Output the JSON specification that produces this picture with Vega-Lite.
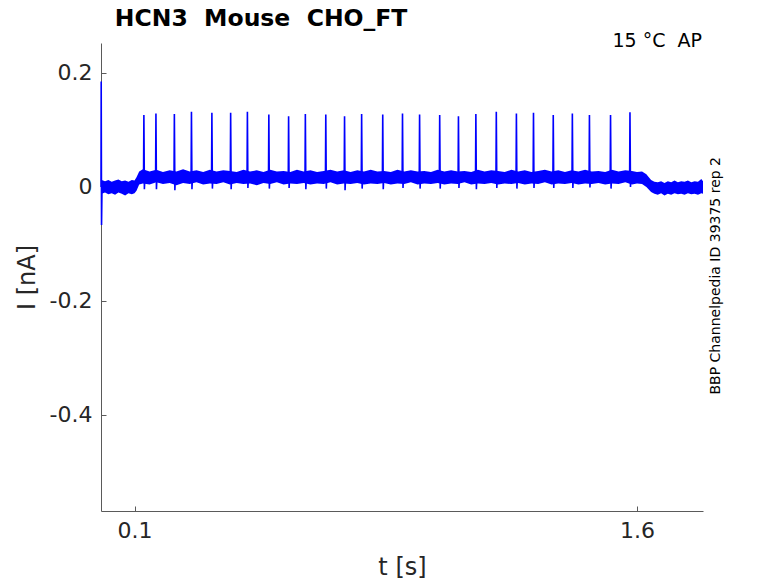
{
  "$schema": "https://vega.github.io/schema/vega-lite/v6.json",
  "autosize": {"type": "none"},
  "padding": {"left": 101, "top": 43, "right": 75, "bottom": 71},
  "width": 602,
  "height": 468,
  "background": "white",
  "config": {
    "view": {"stroke": null},
    "axis": {
      "grid": false,
      "domainColor": "#5a5a5a",
      "domainWidth": 1,
      "tickColor": "#5a5a5a",
      "tickSize": -5,
      "labelFont": "DejaVu Sans",
      "labelFontSize": 22,
      "labelColor": "#262626",
      "titleFont": "DejaVu Sans",
      "titleFontSize": 24,
      "titleFontWeight": "normal",
      "titleColor": "#262626"
    }
  },
  "datasets": {
    "band": [
      {"t": 0.002, "lo": -0.012, "hi": 0.012},
      {"t": 0.012, "lo": -0.010, "hi": 0.010},
      {"t": 0.022, "lo": -0.013, "hi": 0.012},
      {"t": 0.032, "lo": -0.011, "hi": 0.009},
      {"t": 0.042, "lo": -0.014, "hi": 0.011},
      {"t": 0.052, "lo": -0.010, "hi": 0.013},
      {"t": 0.062, "lo": -0.012, "hi": 0.010},
      {"t": 0.072, "lo": -0.015, "hi": 0.011},
      {"t": 0.082, "lo": -0.011, "hi": 0.009},
      {"t": 0.092, "lo": -0.013, "hi": 0.012},
      {"t": 0.10, "lo": -0.011, "hi": 0.011},
      {"t": 0.106, "lo": -0.007, "hi": 0.017},
      {"t": 0.114, "lo": 0.004, "hi": 0.027},
      {"t": 0.125, "lo": 0.006, "hi": 0.031},
      {"t": 0.145, "lo": 0.004, "hi": 0.027},
      {"t": 0.165, "lo": 0.008, "hi": 0.030},
      {"t": 0.185, "lo": 0.005, "hi": 0.026},
      {"t": 0.205, "lo": 0.007, "hi": 0.029},
      {"t": 0.225, "lo": 0.003, "hi": 0.027},
      {"t": 0.245, "lo": 0.007, "hi": 0.031},
      {"t": 0.265, "lo": 0.005, "hi": 0.027},
      {"t": 0.285, "lo": 0.008, "hi": 0.029},
      {"t": 0.305, "lo": 0.004, "hi": 0.026},
      {"t": 0.325, "lo": 0.006, "hi": 0.030},
      {"t": 0.345, "lo": 0.005, "hi": 0.027},
      {"t": 0.365, "lo": 0.008, "hi": 0.029},
      {"t": 0.385, "lo": 0.004, "hi": 0.028},
      {"t": 0.405, "lo": 0.007, "hi": 0.026},
      {"t": 0.425, "lo": 0.005, "hi": 0.030},
      {"t": 0.445, "lo": 0.006, "hi": 0.027},
      {"t": 0.465, "lo": 0.003, "hi": 0.029},
      {"t": 0.485, "lo": 0.007, "hi": 0.026},
      {"t": 0.505, "lo": 0.005, "hi": 0.030},
      {"t": 0.525, "lo": 0.008, "hi": 0.027},
      {"t": 0.545, "lo": 0.004, "hi": 0.028},
      {"t": 0.565, "lo": 0.006, "hi": 0.026},
      {"t": 0.585, "lo": 0.005, "hi": 0.030},
      {"t": 0.605, "lo": 0.007, "hi": 0.027},
      {"t": 0.625, "lo": 0.004, "hi": 0.029},
      {"t": 0.645, "lo": 0.006, "hi": 0.026},
      {"t": 0.665, "lo": 0.005, "hi": 0.028},
      {"t": 0.685, "lo": 0.008, "hi": 0.030},
      {"t": 0.705, "lo": 0.004, "hi": 0.027},
      {"t": 0.725, "lo": 0.006, "hi": 0.029},
      {"t": 0.745, "lo": 0.005, "hi": 0.026},
      {"t": 0.765, "lo": 0.007, "hi": 0.029},
      {"t": 0.785, "lo": 0.004, "hi": 0.027},
      {"t": 0.805, "lo": 0.006, "hi": 0.030},
      {"t": 0.825, "lo": 0.005, "hi": 0.027},
      {"t": 0.845, "lo": 0.007, "hi": 0.028},
      {"t": 0.865, "lo": 0.004, "hi": 0.026},
      {"t": 0.885, "lo": 0.006, "hi": 0.030},
      {"t": 0.905, "lo": 0.005, "hi": 0.027},
      {"t": 0.925, "lo": 0.008, "hi": 0.029},
      {"t": 0.945, "lo": 0.004, "hi": 0.027},
      {"t": 0.965, "lo": 0.006, "hi": 0.028},
      {"t": 0.985, "lo": 0.005, "hi": 0.026},
      {"t": 1.005, "lo": 0.007, "hi": 0.030},
      {"t": 1.025, "lo": 0.004, "hi": 0.027},
      {"t": 1.045, "lo": 0.006, "hi": 0.029},
      {"t": 1.065, "lo": 0.005, "hi": 0.027},
      {"t": 1.085, "lo": 0.008, "hi": 0.028},
      {"t": 1.105, "lo": 0.004, "hi": 0.026},
      {"t": 1.125, "lo": 0.006, "hi": 0.030},
      {"t": 1.145, "lo": 0.005, "hi": 0.027},
      {"t": 1.165, "lo": 0.007, "hi": 0.029},
      {"t": 1.185, "lo": 0.004, "hi": 0.028},
      {"t": 1.205, "lo": 0.006, "hi": 0.026},
      {"t": 1.225, "lo": 0.005, "hi": 0.030},
      {"t": 1.245, "lo": 0.007, "hi": 0.027},
      {"t": 1.265, "lo": 0.004, "hi": 0.029},
      {"t": 1.285, "lo": 0.006, "hi": 0.026},
      {"t": 1.305, "lo": 0.005, "hi": 0.028},
      {"t": 1.325, "lo": 0.008, "hi": 0.030},
      {"t": 1.345, "lo": 0.004, "hi": 0.027},
      {"t": 1.365, "lo": 0.006, "hi": 0.029},
      {"t": 1.385, "lo": 0.005, "hi": 0.026},
      {"t": 1.405, "lo": 0.007, "hi": 0.029},
      {"t": 1.425, "lo": 0.004, "hi": 0.027},
      {"t": 1.445, "lo": 0.006, "hi": 0.030},
      {"t": 1.465, "lo": 0.005, "hi": 0.027},
      {"t": 1.485, "lo": 0.007, "hi": 0.028},
      {"t": 1.505, "lo": 0.004, "hi": 0.026},
      {"t": 1.525, "lo": 0.006, "hi": 0.030},
      {"t": 1.545, "lo": 0.005, "hi": 0.027},
      {"t": 1.565, "lo": 0.008, "hi": 0.029},
      {"t": 1.585, "lo": 0.004, "hi": 0.028},
      {"t": 1.600, "lo": 0.006, "hi": 0.026},
      {"t": 1.615, "lo": 0.005, "hi": 0.027},
      {"t": 1.628, "lo": 0.000, "hi": 0.022},
      {"t": 1.642, "lo": -0.009, "hi": 0.012},
      {"t": 1.652, "lo": -0.012, "hi": 0.009},
      {"t": 1.662, "lo": -0.014, "hi": 0.008},
      {"t": 1.672, "lo": -0.011, "hi": 0.010},
      {"t": 1.682, "lo": -0.015, "hi": 0.007},
      {"t": 1.692, "lo": -0.012, "hi": 0.010},
      {"t": 1.702, "lo": -0.014, "hi": 0.008},
      {"t": 1.712, "lo": -0.011, "hi": 0.011},
      {"t": 1.722, "lo": -0.013, "hi": 0.008},
      {"t": 1.732, "lo": -0.012, "hi": 0.010},
      {"t": 1.742, "lo": -0.014, "hi": 0.009},
      {"t": 1.752, "lo": -0.011, "hi": 0.011},
      {"t": 1.762, "lo": -0.013, "hi": 0.008},
      {"t": 1.772, "lo": -0.012, "hi": 0.010},
      {"t": 1.782, "lo": -0.014, "hi": 0.009},
      {"t": 1.792, "lo": -0.011, "hi": 0.014},
      {"t": 1.797, "lo": -0.012, "hi": 0.010}
    ],
    "trace": [
      {"t": 0.0, "i": 0.0},
      {"t": 0.0006, "i": 0.185},
      {"t": 0.0016, "i": -0.067},
      {"t": 0.003, "i": 0.0},
      {"t": 0.1, "i": 0.0},
      {"t": 0.114, "i": 0.017},
      {"t": 0.127, "i": 0.017}, {"t": 0.128, "i": 0.126}, {"t": 0.1295, "i": -0.004}, {"t": 0.131, "i": 0.017},
      {"t": 0.163, "i": 0.017}, {"t": 0.164, "i": 0.129}, {"t": 0.1655, "i": -0.004}, {"t": 0.167, "i": 0.017},
      {"t": 0.218, "i": 0.017}, {"t": 0.219, "i": 0.128}, {"t": 0.2205, "i": -0.006}, {"t": 0.222, "i": 0.017},
      {"t": 0.269, "i": 0.017}, {"t": 0.270, "i": 0.132}, {"t": 0.2715, "i": -0.004}, {"t": 0.273, "i": 0.017},
      {"t": 0.330, "i": 0.017}, {"t": 0.331, "i": 0.130}, {"t": 0.3325, "i": -0.003}, {"t": 0.334, "i": 0.017},
      {"t": 0.386, "i": 0.017}, {"t": 0.387, "i": 0.130}, {"t": 0.3885, "i": -0.004}, {"t": 0.390, "i": 0.017},
      {"t": 0.436, "i": 0.017}, {"t": 0.437, "i": 0.132}, {"t": 0.4385, "i": -0.002}, {"t": 0.440, "i": 0.017},
      {"t": 0.500, "i": 0.017}, {"t": 0.501, "i": 0.127}, {"t": 0.5025, "i": -0.003}, {"t": 0.504, "i": 0.017},
      {"t": 0.559, "i": 0.017}, {"t": 0.560, "i": 0.124}, {"t": 0.5615, "i": -0.002}, {"t": 0.563, "i": 0.017},
      {"t": 0.609, "i": 0.017}, {"t": 0.610, "i": 0.128}, {"t": 0.6115, "i": -0.004}, {"t": 0.613, "i": 0.017},
      {"t": 0.670, "i": 0.017}, {"t": 0.671, "i": 0.127}, {"t": 0.6725, "i": -0.003}, {"t": 0.674, "i": 0.017},
      {"t": 0.726, "i": 0.017}, {"t": 0.727, "i": 0.124}, {"t": 0.7285, "i": -0.006}, {"t": 0.730, "i": 0.017},
      {"t": 0.777, "i": 0.017}, {"t": 0.778, "i": 0.128}, {"t": 0.7795, "i": -0.003}, {"t": 0.781, "i": 0.017},
      {"t": 0.840, "i": 0.017}, {"t": 0.841, "i": 0.127}, {"t": 0.8425, "i": -0.004}, {"t": 0.844, "i": 0.017},
      {"t": 0.899, "i": 0.017}, {"t": 0.900, "i": 0.129}, {"t": 0.9015, "i": -0.002}, {"t": 0.903, "i": 0.017},
      {"t": 0.950, "i": 0.017}, {"t": 0.951, "i": 0.127}, {"t": 0.9525, "i": -0.003}, {"t": 0.954, "i": 0.017},
      {"t": 1.010, "i": 0.017}, {"t": 1.011, "i": 0.126}, {"t": 1.0125, "i": -0.003}, {"t": 1.014, "i": 0.017},
      {"t": 1.066, "i": 0.017}, {"t": 1.067, "i": 0.124}, {"t": 1.0685, "i": -0.002}, {"t": 1.070, "i": 0.017},
      {"t": 1.118, "i": 0.017}, {"t": 1.119, "i": 0.128}, {"t": 1.1205, "i": -0.004}, {"t": 1.122, "i": 0.017},
      {"t": 1.179, "i": 0.017}, {"t": 1.180, "i": 0.132}, {"t": 1.1815, "i": -0.002}, {"t": 1.183, "i": 0.017},
      {"t": 1.239, "i": 0.017}, {"t": 1.240, "i": 0.129}, {"t": 1.2415, "i": -0.003}, {"t": 1.243, "i": 0.017},
      {"t": 1.290, "i": 0.017}, {"t": 1.291, "i": 0.130}, {"t": 1.2925, "i": -0.002}, {"t": 1.294, "i": 0.017},
      {"t": 1.349, "i": 0.017}, {"t": 1.350, "i": 0.126}, {"t": 1.3515, "i": -0.002}, {"t": 1.353, "i": 0.017},
      {"t": 1.406, "i": 0.017}, {"t": 1.407, "i": 0.129}, {"t": 1.4085, "i": -0.002}, {"t": 1.410, "i": 0.017},
      {"t": 1.457, "i": 0.017}, {"t": 1.458, "i": 0.126}, {"t": 1.4595, "i": -0.001}, {"t": 1.461, "i": 0.017},
      {"t": 1.520, "i": 0.017}, {"t": 1.521, "i": 0.126}, {"t": 1.5225, "i": -0.003}, {"t": 1.524, "i": 0.017},
      {"t": 1.578, "i": 0.017}, {"t": 1.579, "i": 0.131}, {"t": 1.5805, "i": 0.000}, {"t": 1.582, "i": 0.017},
      {"t": 1.615, "i": 0.017},
      {"t": 1.645, "i": 0.0},
      {"t": 1.797, "i": 0.0}
    ],
    "titles": [
      {"label": "HCN3\u00a0\u00a0Mouse\u00a0\u00a0CHO_FT", "t": 0.0412, "i": 0.2822}
    ],
    "notes": [
      {"label": "15 °C\u00a0\u00a0AP", "t": 1.797, "i": 0.2454}
    ],
    "side": [
      {"label": "BBP Channelpedia ID 39375 rep 2", "t": 1.835, "i": -0.156}
    ]
  },
  "layer": [
    {
      "data": {"name": "band"},
      "mark": {"type": "area", "color": "#0000ff", "opacity": 1, "interpolate": "linear"},
      "encoding": {
        "x": {
          "field": "t", "type": "quantitative",
          "scale": {"domain": [0, 1.797], "nice": false, "zero": false},
          "axis": {
            "values": [0.1, 1.6],
            "format": ".1f",
            "title": "t [s]",
            "labelPadding": 14,
            "titlePadding": 14
          }
        },
        "y": {
          "field": "lo", "type": "quantitative",
          "scale": {"domain": [-0.569, 0.2526], "nice": false, "zero": false},
          "axis": {
            "values": [-0.4, -0.2, 0, 0.2],
            "labelExpr": "datum.value === 0 ? '0' : (datum.value < 0 ? '-' + format(-datum.value, '.1f') : format(datum.value, '.1f'))",
            "title": "I [nA]",
            "labelPadding": 14,
            "titlePadding": 10
          }
        },
        "y2": {"field": "hi"}
      }
    },
    {
      "data": {"name": "trace"},
      "mark": {"type": "line", "color": "#0000ff", "strokeWidth": 1.6},
      "encoding": {
        "x": {"field": "t", "type": "quantitative"},
        "y": {"field": "i", "type": "quantitative"}
      }
    },
    {
      "data": {"name": "titles"},
      "mark": {"type": "text", "align": "left", "baseline": "alphabetic", "font": "DejaVu Sans", "fontSize": 23.5, "fontWeight": "bold", "color": "#000000"},
      "encoding": {
        "x": {"field": "t", "type": "quantitative"},
        "y": {"field": "i", "type": "quantitative"},
        "text": {"field": "label"}
      }
    },
    {
      "data": {"name": "notes"},
      "mark": {"type": "text", "align": "right", "baseline": "alphabetic", "font": "DejaVu Sans", "fontSize": 19, "color": "#000000", "dx": -1},
      "encoding": {
        "x": {"field": "t", "type": "quantitative"},
        "y": {"field": "i", "type": "quantitative"},
        "text": {"field": "label"}
      }
    },
    {
      "data": {"name": "side"},
      "mark": {"type": "text", "align": "center", "baseline": "middle", "angle": 270, "font": "DejaVu Sans", "fontSize": 14, "color": "#000000"},
      "encoding": {
        "x": {"field": "t", "type": "quantitative"},
        "y": {"field": "i", "type": "quantitative"},
        "text": {"field": "label"}
      }
    }
  ]
}
